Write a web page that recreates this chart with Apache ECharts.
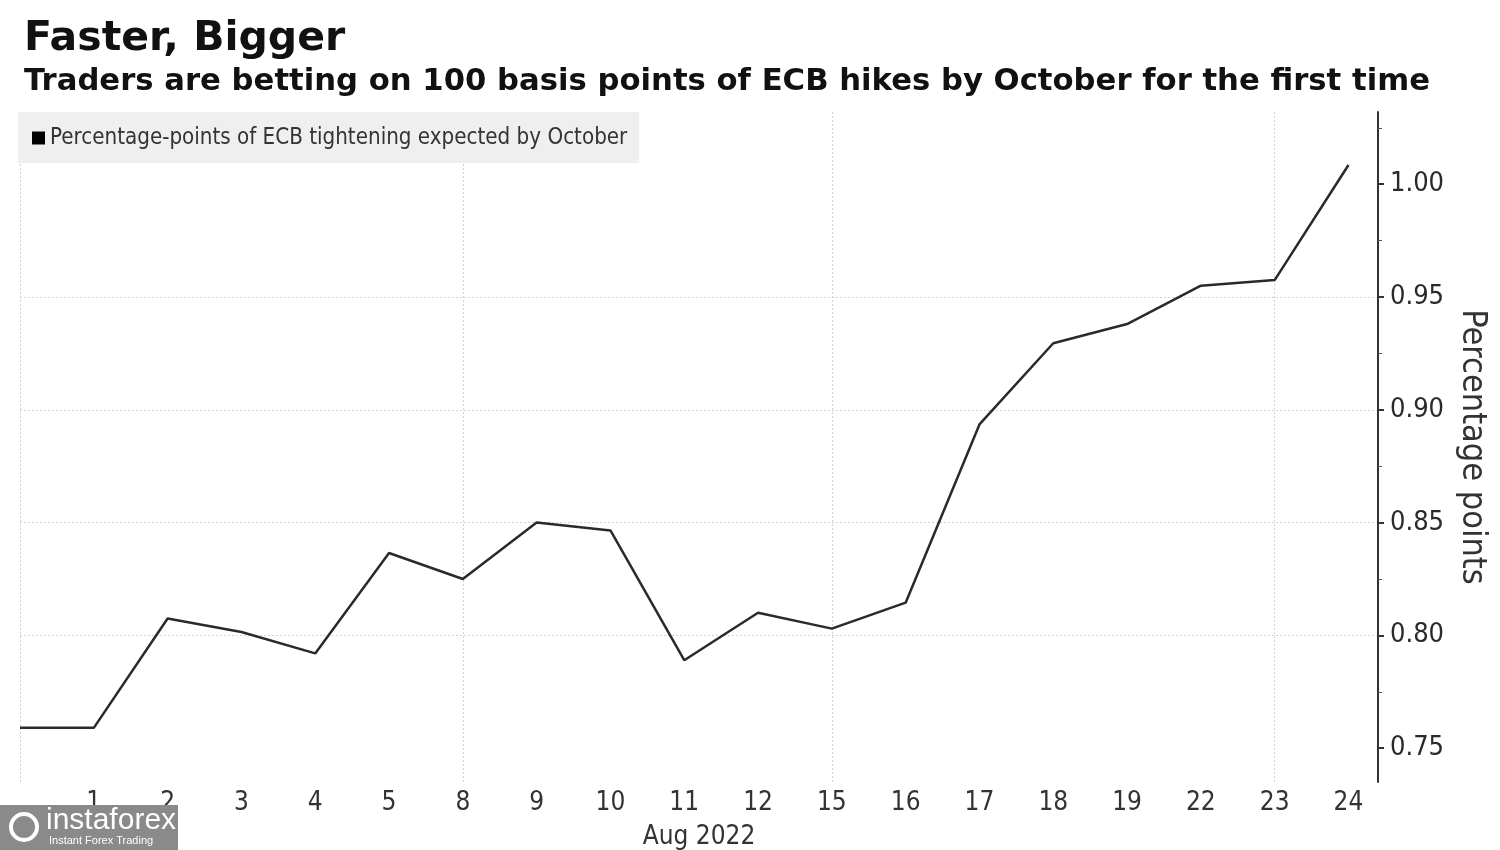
<!DOCTYPE html>
<html>
<head>
<meta charset="utf-8">
<script src="https://cdn.jsdelivr.net/npm/echarts@6/dist/echarts.min.js"></script>
<style>
html,body{margin:0;padding:0;background:#fff;}
#chart{width:1500px;height:850px;}
</style>
</head>
<body>
<div id="chart"></div>
<script>
// Data
const dayLabels = ['', '1', '2', '3', '4', '5', '8', '9', '10', '11', '12', '15', '16', '17', '18', '19', '22', '23', '24'];
const tighteningValues = [0.759, 0.759, 0.8075, 0.8015, 0.792, 0.8365, 0.825, 0.850, 0.8465, 0.789, 0.810, 0.803, 0.8145, 0.8935, 0.9295, 0.938, 0.955, 0.9575, 1.0085];
const yTickValues = [0.75, 0.80, 0.85, 0.90, 0.95, 1.00];
const yMinorTickValues = [0.775, 0.825, 0.875, 0.925, 0.975, 1.025];
const weekLineIdx = [0, 6, 11, 17];

const narrow = "'Liberation Sans Narrow', 'DejaVu Sans Condensed', 'Liberation Sans', sans-serif";
const boldWide = "'DejaVu Sans', Verdana, sans-serif";

const seriesData = tighteningValues.map((v, i) => [i, v]);

// split-line colors for x axis ticks 0..18 (only week lines visible)
const xLineColors = dayLabels.map((_, i) => weekLineIdx.includes(i) ? '#d2d2d2' : 'rgba(0,0,0,0)');

const Y_MIN = 0.735, Y_MAX = 1.032;

const chart = echarts.init(document.getElementById('chart'), null, {renderer: 'canvas'});
chart.setOption({
  backgroundColor: '#ffffff',
  animation: false,
  title: [
    {text: 'Faster, Bigger', left: 19, top: 14,
     textStyle: {fontFamily: boldWide, fontWeight: 'bold', fontSize: 41, color: '#111'}},
    {text: 'Traders are betting on 100 basis points of ECB hikes by October for the first time', left: 19, top: 62,
     textStyle: {fontFamily: boldWide, fontWeight: 'bold', fontSize: 30.7, color: '#111'}}
  ],
  legend: {
    left: 18, top: 112,
    backgroundColor: '#efefef',
    padding: [15, 12, 14, 14],
    icon: 'rect', itemWidth: 13, itemHeight: 13, itemGap: 6,
    textStyle: {fontFamily: narrow, fontSize: 22.2, color: '#333'},
    data: ['Percentage-points of ECB tightening expected by October']
  },
  grid: {left: 20, right: 122, top: 112, bottom: 68, containLabel: false, outerBoundsMode: 'none'},
  xAxis: {
    type: 'value', min: 0, max: 18.4, interval: 1,
    name: 'Aug 2022', nameLocation: 'middle', nameGap: 42,
    nameTextStyle: {fontFamily: narrow, fontSize: 26, color: '#333'},
    axisLine: {show: false},
    axisTick: {show: false},
    axisLabel: {
      margin: 8,
      fontFamily: narrow, fontSize: 26, color: '#333',
      formatter: v => (Number.isInteger(v) && dayLabels[v] !== undefined) ? dayLabels[v] : ''
    },
    splitLine: {show: true, showMaxLine: false, lineStyle: {type: [2, 2], color: xLineColors, width: 1}}
  },
  yAxis: [{
    type: 'value', position: 'right', min: Y_MIN, max: Y_MAX,
    name: 'Percentage points', nameLocation: 'middle', nameRotate: -90, nameGap: 66,
    nameTextStyle: {fontFamily: narrow, fontSize: 34, color: '#333'},
    axisLine: {show: true, onZero: false, lineStyle: {color: '#333', width: 2}},
    axisTick: {show: true, length: 6, customValues: yTickValues, lineStyle: {color: '#333', width: 2}},
    axisLabel: {
      margin: 12, customValues: yTickValues,
      fontFamily: narrow, fontSize: 27, color: '#2a2a2a',
      formatter: v => v.toFixed(2)
    },
    splitLine: {show: true, showMinLine: false, showMaxLine: false, lineStyle: {type: [2, 2], color: '#d2d2d2', width: 1}}
  }, {
    type: 'value', position: 'right', min: Y_MIN, max: Y_MAX, offset: 0,
    axisLine: {show: false, onZero: false},
    axisTick: {show: true, length: 4, customValues: yMinorTickValues, lineStyle: {color: '#555', width: 1}},
    axisLabel: {show: false},
    splitLine: {show: false}
  }],
  series: [{
    name: 'Percentage-points of ECB tightening expected by October',
    type: 'line',
    yAxisIndex: 0,
    data: seriesData,
    symbol: 'none',
    itemStyle: {color: '#000'},
    lineStyle: {color: '#2a2a2a', width: 2.5}
  }],
  graphic: [
    {type: 'rect', left: 0, top: 805, shape: {width: 178, height: 45}, style: {fill: '#8a8a8a'}, z: 100},
    {type: 'text', left: 46, top: 806, style: {text: 'instaforex', fill: '#ffffff', font: "30px 'Liberation Sans', sans-serif"}, z: 101},
    {type: 'text', left: 49, top: 835, style: {text: 'Instant Forex Trading', fill: '#ffffff', font: "11px 'Liberation Sans', sans-serif"}, z: 101},
    {type: 'circle', shape: {cx: 24, cy: 827, r: 13}, style: {fill: 'none', stroke: '#ffffff', lineWidth: 4}, z: 101}
  ]
});
</script>
</body>
</html>
